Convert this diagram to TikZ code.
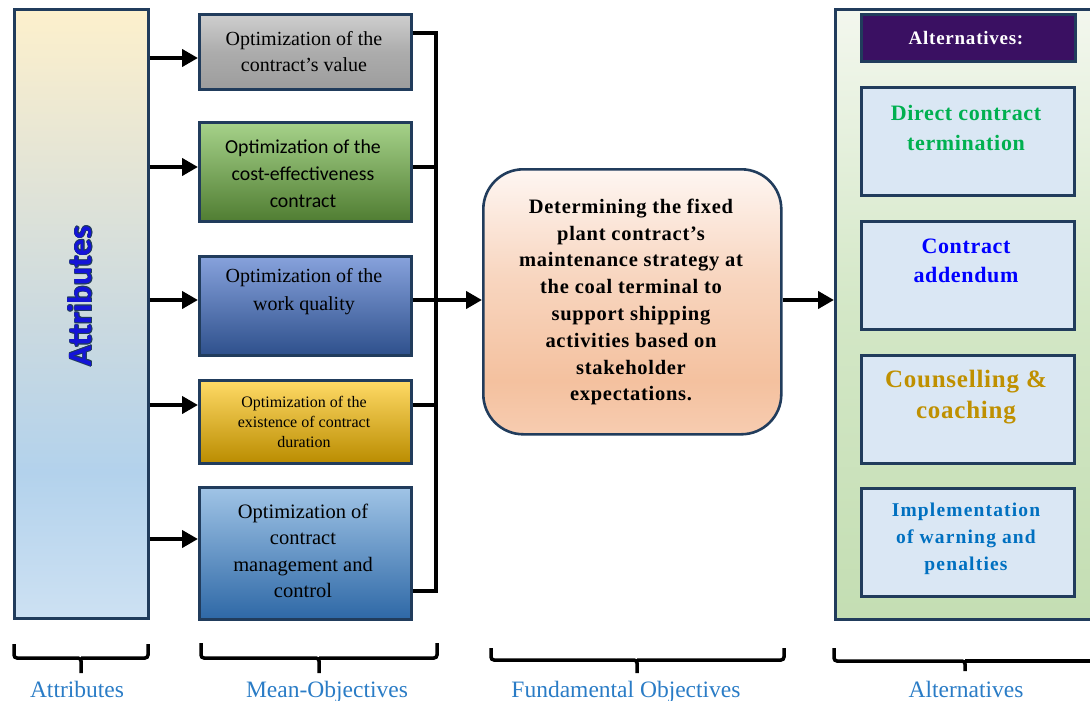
\documentclass[tikz,border=0pt]{standalone}
\usepackage{fontspec}
\setmainfont{Liberation Serif}
\newfontfamily\calib{Carlito}
\usetikzlibrary{arrows.meta}

% palette
\definecolor{navy}{HTML}{213C5C}
\definecolor{aT}{HTML}{FDF0CC}
\definecolor{aM}{HTML}{CCDADF}
\definecolor{aL}{HTML}{B3D2EC}
\definecolor{aB}{HTML}{CDE1F3}
\definecolor{fT}{HTML}{FEF6F2}
\definecolor{fM}{HTML}{F8D6C0}
\definecolor{fL}{HTML}{F4C19F}
\definecolor{fB}{HTML}{F7CCB0}
\definecolor{gT}{HTML}{F3F7EE}
\definecolor{gM}{HTML}{D3E7C6}
\definecolor{gB}{HTML}{C4DEB3}
\definecolor{altfill}{HTML}{DAE7F4}
\definecolor{purple}{HTML}{3A1062}
\definecolor{lab}{HTML}{2A7CC6}
\definecolor{tgreen}{HTML}{00B050}
\definecolor{tblue}{HTML}{0000FF}
\definecolor{tgold}{HTML}{BF9000}
\definecolor{tsky}{HTML}{0070C0}
\definecolor{attrblue}{HTML}{1414D8}

% TikZ maps the 25bp..75bp band onto the filled path
\pgfdeclareverticalshading{attrshade}{100bp}{color(0bp)=(aB); color(25bp)=(aB); color(37bp)=(aL); color(50bp)=(aM); color(75bp)=(aT); color(100bp)=(aT)}
\pgfdeclareverticalshading{fundshade}{100bp}{color(0bp)=(fB); color(25bp)=(fB); color(35bp)=(fL); color(55bp)=(fM); color(75bp)=(fT); color(100bp)=(fT)}
\pgfdeclareverticalshading{altshade}{100bp}{color(0bp)=(gB); color(25bp)=(gB); color(50bp)=(gM); color(75bp)=(gT); color(100bp)=(gT)}

\tikzset{
  frame/.style={draw=navy, line width=2.6pt, inner sep=0pt, anchor=north west},
  meanbox/.style={frame, minimum width=212pt},
  altbox/.style={frame, fill=altfill, minimum width=213pt, minimum height=108pt},
  boxtext/.style={align=center, inner sep=0pt, font=\fontsize{20}{26}\selectfont},
  alttext/.style={align=center, inner sep=0pt, font=\bfseries\fontsize{22}{29.5}\selectfont\addfontfeature{LetterSpace=3}},
  arr/.style={line width=4pt, -{Triangle[length=16pt,width=17pt]}},
  bus/.style={line width=4pt, line join=miter},
  brace/.style={line width=3.5pt, rounded corners=3pt},
  bottomlabel/.style={text=lab, inner sep=0pt, anchor=base, font=\fontsize{23.5}{26}\selectfont},
}

\begin{document}
\begin{tikzpicture}[x=1pt, y=-1pt]
\useasboundingbox (0,0) rectangle (1090,701);
\clip (0,0) rectangle (1090,701);

% ---------- attributes column ----------
\node[frame, shading=attrshade, minimum width=134pt, minimum height=609pt] (attr) at (13,8) {};
\foreach \dx/\dy in {0.8/0,-0.8/0,0/0.8,0/-0.8,0.55/0.55,-0.55/0.55,0.55/-0.55,-0.55/-0.55}
  \node[rotate=90, text=navy, font=\calib\bfseries\fontsize{34}{34}\selectfont, inner sep=0pt]
    at ([xshift=\dx pt, yshift=\dy pt]80,296) {Attributes};
\node[rotate=90, text=attrblue, font=\calib\bfseries\fontsize{34}{34}\selectfont, inner sep=0pt]
  (attrlabel) at (80,296) {Attributes};

% ---------- mean objectives ----------
\node[meanbox, minimum height=75pt, top color=gray!38, bottom color=gray!90!black!70, middle color=gray!65] (m1) at (198,13) {};
\node[boxtext] (m1t) at (304,52) {Optimization of the\\contract’s value};

\node[meanbox, minimum height=99pt, top color={rgb,255:red,166;green,210;blue,138}, middle color={rgb,255:red,118;green,171;blue,78}, bottom color={rgb,255:red,80;green,125;blue,50}] (m2) at (198,121) {};
\node[boxtext, font=\calib\fontsize{19.8}{27}\selectfont] (m2t) at (303,174) {Optimization of the\\cost-effectiveness\\contract};

\node[meanbox, minimum height=99pt, top color={rgb,255:red,135;green,162;blue,220}, middle color={rgb,255:red,70;green,112;blue,192}, bottom color={rgb,255:red,46;green,80;blue,140}] (m3) at (198,255) {};
\node[boxtext, font=\fontsize{20}{28}\selectfont] (m3t) at (304,292) {Optimization of the\\work quality};

\node[meanbox, minimum height=83pt, top color={rgb,255:red,255;green,218;blue,102}, middle color={rgb,255:red,255;green,192;blue,0}, bottom color={rgb,255:red,186;green,140;blue,0}] (m4) at (198,379) {};
\node[boxtext, font=\fontsize{16}{20}\selectfont] (m4t) at (304,422) {Optimization of the\\existence of contract\\duration};

\node[meanbox, minimum height=132pt, top color={rgb,255:red,160;green,196;blue,230}, middle color={rgb,255:red,90;green,152;blue,212}, bottom color={rgb,255:red,46;green,104;blue,166}] (m5) at (198,486) {};
\node[boxtext, font=\fontsize{20.5}{26.3}\selectfont] (m5t) at (303,551) {Optimization of\\contract\\management and\\control};

% arrows from the attribute column
\draw[arr] (attr.east |- 0,58)  -- (m1.west |- 0,58);
\draw[arr] (attr.east |- 0,167) -- (m2.west |- 0,167);
\draw[arr] (attr.east |- 0,300) -- (m3.west |- 0,300);
\draw[arr] (attr.east |- 0,405) -- (m4.west |- 0,405);
\draw[arr] (attr.east |- 0,539) -- (m5.west |- 0,539);

% collecting bus
\coordinate (busTop) at (436,33);
\coordinate (busBot) at (436,591);
\coordinate (busMid) at (436,300);
\draw[bus] (m1.east |- busTop) -- (busTop) -- (busBot) -- (m5.east |- busBot);
\draw[bus] (m2.east |- 0,167) -- (436,167);
\draw[bus] (m3.east |- busMid) -- (busMid);
\draw[bus] (m4.east |- 0,405) -- (436,405);

% ---------- fundamental objective ----------
\node[frame, shading=fundshade, rounded corners=40pt, minimum width=298pt, minimum height=265pt] (fund) at (482,168) {};
\node[align=center, inner sep=0pt, font=\bfseries\fontsize{20.5}{26.8}\selectfont\addfontfeature{LetterSpace=3.5}] (fundt) at (631,302)
  {Determining the fixed\\plant contract’s\\maintenance strategy at\\the coal terminal to\\support shipping\\activities based on\\stakeholder\\expectations.};
\draw[arr] (busMid) -- (fund.west |- busMid);

% ---------- alternatives ----------
\node[frame, shading=altshade, minimum width=270pt, minimum height=610pt] (alts) at (834,8) {};
\draw[arr] (fund.east |- busMid) -- (alts.west |- busMid);

\node[frame, fill=purple, minimum width=214pt, minimum height=47pt] (althead) at (860,13) {};
\node[text=white, inner sep=0pt, font=\bfseries\fontsize{19}{22}\selectfont\addfontfeature{LetterSpace=4}] (altheadt) at (966,38) {Alternatives:};

\node[altbox] (a1) at (860,86) {};
\node[alttext, text=tgreen] (a1t) at (966,128) {Direct contract\\termination};
\node[altbox] (a2) at (860,220) {};
\node[alttext, text=tblue] (a2t) at (966,261) {Contract\\addendum};
\node[altbox] (a3) at (860,354) {};
\node[alttext, text=tgold, font=\bfseries\fontsize{25}{31}\selectfont\addfontfeature{LetterSpace=3}] (a3t) at (966,397.5) {Counselling \&\\coaching};
\node[altbox] (a4) at (860,487) {};
\node[alttext, text=tsky, font=\bfseries\fontsize{19.5}{27.3}\selectfont\addfontfeature{LetterSpace=6}] (a4t) at (966,539) {Implementation\\of warning and\\penalties};

% ---------- bottom braces and captions ----------
\draw[brace] (14,644) |- (81,658) -- (81,673);
\draw[brace] (148,644) |- (81,658);
\node[bottomlabel] (lbA) at (77,697) {Attributes};

\draw[brace] (201,643) |- (319,658) -- (319,673);
\draw[brace] (437,643) |- (319,658);
\node[bottomlabel] (lbM) at (327,697) {Mean-Objectives};

\draw[brace] (491,648) |- (637,660) -- (637,673);
\draw[brace] (784,648) |- (637,660);
\node[bottomlabel] (lbF) at (626,697) {Fundamental Objectives};

\draw[brace] (834,648) |- (965,661) -- (965,671);
\draw[brace] (1100,661) -- (965,661);
\node[bottomlabel] (lbAlt) at (966,697) {Alternatives};
\end{tikzpicture}
\end{document}
